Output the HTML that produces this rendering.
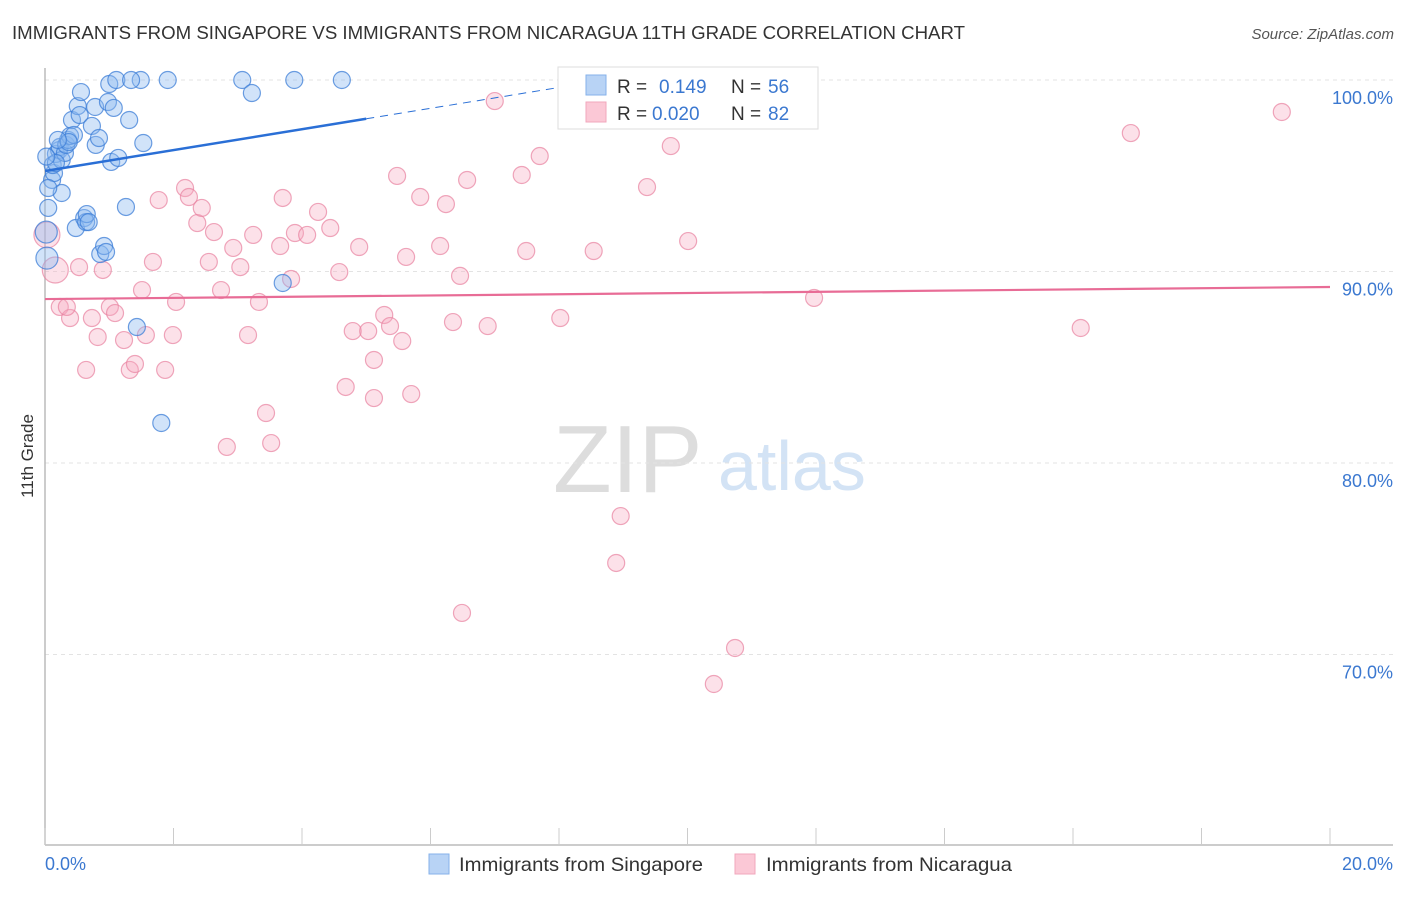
<!DOCTYPE html>
<html><head><meta charset="utf-8"><style>
body{margin:0;background:#fff;font-family:"Liberation Sans",sans-serif;}
svg text{font-family:"Liberation Sans",sans-serif;}
</style></head><body>
<svg id="chart" width="1406" height="892" viewBox="0 0 1406 892">
<text x="12" y="39" font-size="18.6" fill="#333" textLength="953" lengthAdjust="spacingAndGlyphs">IMMIGRANTS FROM SINGAPORE VS IMMIGRANTS FROM NICARAGUA 11TH GRADE CORRELATION CHART</text>
<text x="1394" y="39" font-size="15" fill="#555" font-style="italic" text-anchor="end">Source: ZipAtlas.com</text>
<text transform="translate(33,456) rotate(-90)" font-size="17" fill="#333" text-anchor="middle">11th Grade</text>
<g>
<text x="553" y="492" font-size="96" fill="#ddd" font-family="Liberation Serif,serif">ZIP</text>
<text x="718" y="490" font-size="70" fill="#d3e3f5">atlas</text>
</g>
<g id="grid"></g>
<g id="axes"></g>
<g id="pts"></g>
<g id="trend"></g>
<g>
<rect x="558" y="67" width="260" height="62" fill="#fff" stroke="#ddd"/>
<rect x="586" y="75" width="20" height="20" fill="#b8d3f5" stroke="#86b1ea"/>
<rect x="586" y="102" width="20" height="20" fill="#fbc8d6" stroke="#f1a7bc"/>
<text x="617" y="93" font-size="19" fill="#333">R = </text><text x="659" y="93" font-size="19" fill="#3b78d0">0.149</text>
<text x="731" y="93" font-size="19" fill="#333">N = </text><text x="768" y="93" font-size="19" fill="#3b78d0">56</text>
<text x="617" y="120" font-size="19" fill="#333">R = </text><text x="652" y="120" font-size="19" fill="#3b78d0">0.020</text>
<text x="731" y="120" font-size="19" fill="#333">N = </text><text x="768" y="120" font-size="19" fill="#3b78d0">82</text>
</g>
<g>
<rect x="429" y="854" width="20" height="20" fill="#b8d3f5" stroke="#86b1ea"/>
<text x="459" y="871" font-size="19.5" fill="#333" textLength="244" lengthAdjust="spacingAndGlyphs">Immigrants from Singapore</text>
<rect x="735" y="854" width="20" height="20" fill="#fbc8d6" stroke="#f1a7bc"/>
<text x="766" y="871" font-size="19.5" fill="#333" textLength="246" lengthAdjust="spacingAndGlyphs">Immigrants from Nicaragua</text>
</g>
</svg>
<script>
const yTicks=[100,90,80,70];
const yTickLabels=["100.0%","90.0%","80.0%","70.0%"];
const xTicks=[0,2,4,6,8,10,12,14,16,18,20];
const xEndLabels=["0.0%","20.0%"];
const sgX=[0.03,0.02,0.05,0.11,0.14,0.12,0.17,0.22,0.23,0.26,0.31,0.33,0.36,0.39,0.42,0.45,0.48,0.51,0.54,0.56,0.61,0.64,0.65,0.68,0.73,0.78,0.79,0.84,0.86,0.92,0.95,0.98,1.00,1.03,1.07,1.11,1.14,1.26,1.31,1.43,1.53,1.49,1.81,1.91,3.07,3.22,3.70,3.88,4.62,0.26,0.17,0.37,1.34,0.05,0.20,0.02];
const sgY=[90.70,92.06,93.32,94.78,95.14,95.56,96.14,96.34,96.50,95.82,96.19,96.61,96.87,97.08,97.91,97.13,92.27,98.64,98.17,99.37,92.79,92.58,93.00,92.58,97.60,98.59,96.61,96.97,90.91,91.33,91.02,98.85,99.79,95.72,98.54,100,95.93,93.37,97.91,87.10,96.71,100,82.09,100,100,99.32,89.40,100,100,94.10,95.67,96.76,100,94.36,96.87,96.0];
const niX=[0.03,0.16,0.23,0.39,0.34,0.53,0.64,0.73,0.82,0.90,1.01,1.09,1.23,1.32,1.40,1.51,1.57,1.77,1.68,1.87,1.99,2.04,2.18,2.24,2.37,2.44,2.55,2.63,2.74,2.83,2.93,3.04,3.16,3.24,3.33,3.44,3.52,3.66,3.70,3.83,3.89,4.08,4.25,4.44,4.58,4.68,4.79,4.89,5.03,5.12,5.12,5.28,5.37,5.48,5.56,5.62,5.70,5.84,6.15,6.24,6.35,6.46,6.57,6.49,6.89,7.00,7.42,7.49,7.70,8.02,8.54,8.96,8.89,9.37,9.74,10.01,10.41,10.74,11.97,16.12,16.90,19.25];
const niY=[91.91,90.08,88.15,87.57,88.15,90.23,84.86,87.57,86.58,90.08,88.15,87.83,86.42,84.86,85.17,89.03,86.68,93.73,90.50,84.86,86.68,88.41,94.36,93.89,92.53,93.32,90.50,92.06,89.03,80.84,91.23,90.23,86.68,91.91,88.41,82.61,81.04,91.33,93.84,89.61,92.01,91.91,93.11,92.27,89.97,83.97,86.89,91.28,86.89,83.39,85.38,87.73,87.15,94.99,86.37,90.76,83.60,93.89,91.33,93.52,87.36,89.77,94.78,72.17,87.15,98.90,95.04,91.07,96.03,87.57,91.07,77.23,74.78,94.41,96.55,91.59,68.46,70.34,88.62,87.05,97.23,98.33];
const sgTrend=[95.25,0.545]; // intercept, slope
const niTrend=[88.56,0.0315];
const NS="http://www.w3.org/2000/svg";
const X=v=>45+v/20*1285;
const Y=v=>80+(100-v)*19.15;
function mk(tag,attrs,parent){const e=document.createElementNS(NS,tag);for(const k in attrs)e.setAttribute(k,attrs[k]);parent.appendChild(e);return e;}
const grid=document.getElementById('grid'),axes=document.getElementById('axes'),pts=document.getElementById('pts'),tr=document.getElementById('trend');
yTicks.forEach((t,i)=>{
 const l=mk('line',{x1:45,x2:1393,y1:Y(t),y2:Y(t),stroke:'#e3e3e3','stroke-dasharray':'4,4'},grid);
 
 
 const tx=mk('text',{x:1393,y:Y(t)+24,'font-size':18,fill:'#3b78d0','text-anchor':'end'},axes);
 tx.textContent=yTickLabels[i];
 
 
});
const ax=mk('line',{x1:45,x2:1393,y1:845,y2:845,stroke:'#bbb','stroke-width':1.5},axes);


const ay=mk('line',{x1:45,x2:45,y1:68,y2:845,stroke:'#bbb','stroke-width':1.5},axes);


xTicks.forEach(t=>{
 const l=mk('line',{x1:X(t),x2:X(t),y1:828,y2:845,stroke:'#ccc'},axes);
 
 
});
[[0,'start'],[20,'end']].forEach((p,i)=>{
 const tx=mk('text',{x:i?1393:45,y:870,'font-size':18,fill:'#3b78d0','text-anchor':p[1]},axes);
 tx.textContent=xEndLabels[i];
 
 
});
niX.forEach((x,i)=>{
 const c=mk('circle',{cx:X(x),cy:Y(niY[i]),r:i<2?13:8.5,fill:'rgba(247,168,192,0.35)',stroke:'rgba(232,130,160,0.7)','stroke-width':1.2},pts);
 
 
});
sgX.forEach((x,i)=>{
 const c=mk('circle',{cx:X(x),cy:Y(sgY[i]),r:i<2?11:8.5,fill:'rgba(140,185,240,0.4)',stroke:'rgba(60,125,215,0.75)','stroke-width':1.2},pts);
 
 
});
const b1=mk('line',{x1:X(0),y1:Y(sgTrend[0]),x2:X(5),y2:Y(sgTrend[0]+sgTrend[1]*5),stroke:'#2a6fd6','stroke-width':2.5},tr);


const b2=mk('line',{x1:X(5),y1:Y(sgTrend[0]+sgTrend[1]*5),x2:X(8.4),y2:Y(sgTrend[0]+sgTrend[1]*8.4),stroke:'#2a6fd6','stroke-width':1,'stroke-dasharray':'8,6'},tr);


const p1=mk('line',{x1:X(0),y1:Y(niTrend[0]),x2:X(20),y2:Y(niTrend[0]+niTrend[1]*20),stroke:'#e86c96','stroke-width':2.2},tr);


</script>
</body></html>
